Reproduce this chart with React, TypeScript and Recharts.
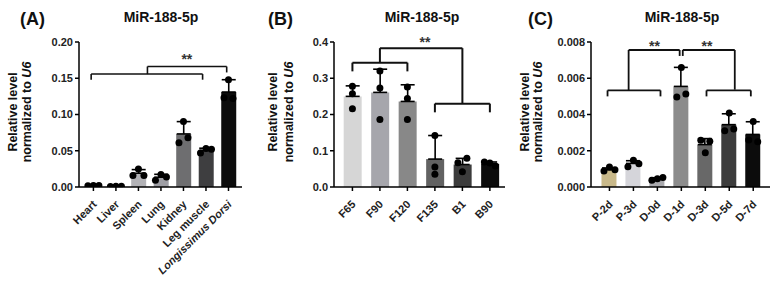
import React from 'react';
import { ComposedChart, Bar, Cell, ErrorBar, Scatter, XAxis, YAxis, ReferenceLine, ReferenceDot } from 'recharts';

// (A) tissues
const tissueNames = ['Heart', 'Liver', 'Spleen', 'Lung', 'Kidney', 'Leg muscle', 'Longissimus Dorsi'];
const tissueMeans = [0.002, 0.0009, 0.019, 0.0135, 0.0732, 0.0505, 0.131];
const tissueErr = [0.0003, 0.0001, 0.005, 0.004, 0.017, 0.003, 0.017];
const tissueReps = [
  [0.0018, 0.0022, 0.002],
  [0.0008, 0.001, 0.0009],
  [0.016, 0.025, 0.016],
  [0.0092, 0.0174, 0.0137],
  [0.061, 0.068, 0.0905],
  [0.047, 0.053, 0.052],
  [0.148, 0.123, 0.122],
];
const tissueTicks = [0, 0.05, 0.1, 0.15, 0.2];

// (B) stages
const stageNames = ['F65', 'F90', 'F120', 'F135', 'B1', 'B90'];
const stageMeans = [0.25, 0.261, 0.236, 0.077, 0.062, 0.064];
const stageErr = [0.029, 0.064, 0.046, 0.065, 0.017, 0.005];
const stageReps = [
  [0.216, 0.257, 0.278],
  [0.32, 0.273, 0.186],
  [0.276, 0.244, 0.186],
  [0.142, 0.055, 0.035],
  [0.042, 0.067, 0.079],
  [0.069, 0.066, 0.058],
];
const stageTicks = [0, 0.1, 0.2, 0.3, 0.4];

// (C) days
const dayNames = ['P-2d', 'P-3d', 'D-0d', 'D-1d', 'D-3d', 'D-5d', 'D-7d'];
const dayMeans = [0.00095, 0.0013, 0.00045, 0.00555, 0.00234, 0.00344, 0.0029];
const dayErr = [0.0001, 0.00015, 0.00006, 0.00105, 0.00033, 0.0006, 0.0007];
const dayReps = [
  [0.00088, 0.0011, 0.00095],
  [0.00112, 0.00147, 0.00128],
  [0.00037, 0.00045, 0.00052],
  [0.00496, 0.00513, 0.0066],
  [0.00258, 0.00253, 0.00189],
  [0.00311, 0.0032, 0.00408],
  [0.00362, 0.0026, 0.0025],
];
const dayTicks = [0, 0.002, 0.004, 0.006, 0.008];

const FONT = '"Liberation Sans", Arial, sans-serif';
const PLOT_H = 145.5;
const DOT_R = 3.5;

// spread replicate dots that would overlap, like Prism does
function buildDots(reps: number[][], max: number) {
  const out: { idx: number; value: number; off: number }[] = [];
  reps.forEach((vals, idx) => {
    const px = vals.map((v) => (v / max) * PLOT_H);
    const order = vals.map((_, i) => i).sort((a, b) => px[a] - px[b]);
    const groups: number[][] = [];
    order.forEach((i) => {
      const g = groups[groups.length - 1];
      if (g && px[i] - px[g[g.length - 1]] < 7) g.push(i);
      else groups.push([i]);
    });
    groups.forEach((g) => {
      const members = [...g].sort((a, b) => a - b);
      const step = members.length === 2 ? 9 : 5.5;
      members.forEach((i, k) => {
        out.push({ idx, value: vals[i], off: (k - (members.length - 1) / 2) * step });
      });
    });
  });
  return out;
}

type Pt = [number, number];

interface PanelProps {
  left: number;
  width: number;
  names: string[];
  means: number[];
  errs: number[];
  reps: number[][];
  colors: string[];
  ticks: number[];
  digits: number;
  xDomain: [number, number];
  axisX: number;
  rightPad: number;
  barSize: number;
  brackets: Pt[][];
  stars: Pt[];
  bracketWidth: number;
  italicLast?: boolean;
}

const Panel: React.FC<PanelProps> = (p) => {
  const max = p.ticks[p.ticks.length - 1];
  const bars = p.names.map((name, idx) => ({ idx, name, mean: p.means[idx], err: [0, p.errs[idx]] }));
  const dots = buildDots(p.reps, max);

  const segments: { a: Pt; b: Pt }[] = [];
  p.brackets.forEach((line) => {
    for (let i = 1; i < line.length; i++) segments.push({ a: line[i - 1], b: line[i] });
  });

  const renderTick = (props: any) => {
    const { x, y, payload } = props;
    const label = p.names[payload.value] ?? '';
    const ax = x + 4;
    const ay = y + 12;
    const italic = p.italicLast && payload.value === p.names.length - 1;
    return (
      <text
        x={ax}
        y={ay}
        transform={`rotate(-45 ${ax} ${ay})`}
        textAnchor="end"
        fontFamily={FONT}
        fontWeight="bold"
        fontStyle={italic ? 'italic' : 'normal'}
        fontSize={11}
        fill="#222"
      >
        {label}
      </text>
    );
  };

  return (
    <div style={{ position: 'absolute', left: p.left, top: 0 }}>
      <ComposedChart
        width={p.width}
        height={282}
        data={bars}
        margin={{ top: 42, right: p.rightPad, bottom: 282 - 187 - 70, left: 0 }}
      >
        <XAxis
          type="number"
          dataKey="idx"
          domain={p.xDomain}
          ticks={p.names.map((_, i) => i)}
          interval={0}
          allowDataOverflow
          height={70}
          stroke="#000"
          strokeWidth={1.5}
          tickSize={4}
          tick={renderTick}
        />
        <YAxis
          type="number"
          domain={[0, max]}
          ticks={p.ticks}
          interval={0}
          allowDataOverflow
          width={p.axisX}
          stroke="#000"
          strokeWidth={1.5}
          tickSize={4}
          tickFormatter={(v: number) => v.toFixed(p.digits)}
          tick={{ fontFamily: FONT, fontWeight: 'bold', fontSize: 11, fill: '#222' }}
        />
        <Bar dataKey="mean" barSize={p.barSize} isAnimationActive={false}>
          {bars.map((b) => (
            <Cell key={b.name} fill={p.colors[b.idx]} />
          ))}
          <ErrorBar dataKey="err" width={7} stroke="#000" strokeWidth={1.6} direction="y" />
        </Bar>
        <Scatter
          data={dots}
          dataKey="value"
          isAnimationActive={false}
          shape={(s: any) => <circle cx={s.cx + s.payload.off} cy={s.cy} r={DOT_R} fill="#000" />}
        />
        {segments.map((s, i) => (
          <ReferenceLine
            key={`seg-${i}`}
            segment={[{ x: s.a[0], y: s.a[1] }, { x: s.b[0], y: s.b[1] }]}
            stroke="#111"
            strokeWidth={p.bracketWidth}
            ifOverflow="visible"
          />
        ))}
        {p.stars.map((s, i) => (
          <ReferenceDot
            key={`star-${i}`}
            x={s[0]}
            y={s[1]}
            r={0}
            fill="none"
            stroke="none"
            ifOverflow="visible"
            label={{ value: '**', position: 'center', fontFamily: FONT, fontWeight: 'bold', fontSize: 14, fill: '#333' }}
          />
        ))}
      </ComposedChart>
    </div>
  );
};

const YLabel: React.FC<{ x1: number; x2: number; cy: number }> = ({ x1, x2, cy }) => (
  <g fontFamily={FONT} fontWeight="bold" fontSize={12.5} fill="#111" textAnchor="middle">
    <text x={x1} y={cy} transform={`rotate(-90 ${x1} ${cy})`} dominantBaseline="central">
      Relative level
    </text>
    <text x={x2} y={cy} transform={`rotate(-90 ${x2} ${cy})`} dominantBaseline="central">
      normalized to <tspan fontStyle="italic">U6</tspan>
    </text>
  </g>
);

export default function App() {
  return (
    <div style={{ position: 'absolute', left: 0, top: 0, width: 777, height: 282, background: '#fff', overflow: 'hidden' }}>
      <Panel
        left={0}
        width={260}
        names={tissueNames}
        means={tissueMeans}
        errs={tissueErr}
        reps={tissueReps}
        colors={['#d0d0d2', '#c0c0c2', '#b2b2b6', '#9e9ea4', '#6e6e70', '#3e3e40', '#0c0c0c']}
        ticks={tissueTicks}
        digits={2}
        xDomain={[-0.64, 6.6]}
        axisX={79}
        rightPad={18}
        barSize={15}
        bracketWidth={1.6}
        brackets={[
          [[-0.1, 0.148], [-0.1, 0.1558], [4.85, 0.1558], [4.85, 0.148]],
          [[2.4, 0.1558], [2.4, 0.1662], [5.92, 0.1662], [5.92, 0.158]],
        ]}
        stars={[[4.15, 0.1772]]}
        italicLast
      />
      <Panel
        left={255}
        width={260}
        names={stageNames}
        means={stageMeans}
        errs={stageErr}
        reps={stageReps}
        colors={['#d6d6d6', '#a6a6ac', '#888888', '#626262', '#3c3c3c', '#0c0c0c']}
        ticks={stageTicks}
        digits={1}
        xDomain={[-0.67, 5.55]}
        axisX={79}
        rightPad={10}
        barSize={18}
        bracketWidth={2}
        brackets={[
          [[0, 0.319], [0, 0.343], [2, 0.343], [2, 0.319]],
          [[1, 0.343], [1, 0.383], [4, 0.383], [4, 0.23]],
          [[3, 0.206], [3, 0.23], [5, 0.23], [5, 0.206]],
        ]}
        stars={[[2.64, 0.4008]]}
      />
      <Panel
        left={515}
        width={262}
        names={dayNames}
        means={dayMeans}
        errs={dayErr}
        reps={dayReps}
        colors={['#c9b98a', '#d5d5da', '#a9a9ad', '#8c8c8c', '#686868', '#3c3c3c', '#0c0c0c']}
        ticks={dayTicks}
        digits={3}
        xDomain={[-0.77, 6.7]}
        axisX={76}
        rightPad={7}
        barSize={15}
        bracketWidth={1.8}
        brackets={[
          [[-0.08, 0.005], [-0.08, 0.00533], [2.13, 0.00533], [2.13, 0.005]],
          [[0.8, 0.00533], [0.8, 0.00756], [2.93, 0.00756], [2.93, 0.00723]],
          [[3.06, 0.00723], [3.06, 0.00756], [5.23, 0.00756], [5.23, 0.00537]],
          [[4.05, 0.005], [4.05, 0.00533], [5.9, 0.00533], [5.9, 0.005]],
        ]}
        stars={[[1.88, 0.0078], [4.07, 0.0078]]}
      />
      <svg width={777} height={282} style={{ position: 'absolute', left: 0, top: 0, pointerEvents: 'none' }}>
        <g fontFamily={FONT} fontWeight="bold" fill="#111">
          <text x={20} y={25} fontSize={18}>(A)</text>
          <text x={268} y={25} fontSize={18}>(B)</text>
          <text x={528} y={25} fontSize={18}>(C)</text>
          <text x={161} y={22} fontSize={14} textAnchor="middle">MiR-188-5p</text>
          <text x={422} y={22} fontSize={14} textAnchor="middle">MiR-188-5p</text>
          <text x={682} y={22} fontSize={14} textAnchor="middle">MiR-188-5p</text>
        </g>
        <YLabel x1={13} x2={27} cy={112} />
        <YLabel x1={273} x2={289} cy={112} />
        <YLabel x1={525} x2={538} cy={112} />
      </svg>
    </div>
  );
}
